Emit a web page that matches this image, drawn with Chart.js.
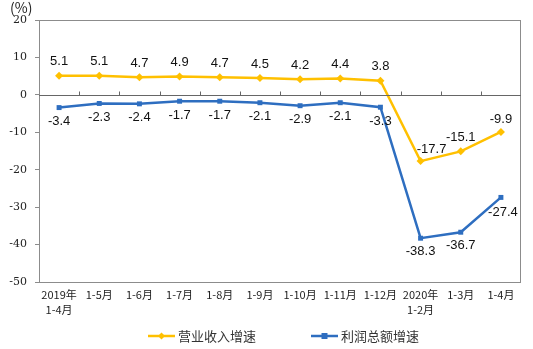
<!DOCTYPE html>
<html>
<head>
<meta charset="utf-8">
<script src="https://cdn.jsdelivr.net/npm/chart.js@4/dist/chart.umd.min.js"></script>
<style>
  html, body { margin: 0; padding: 0; background: #fff; }
  #wrap { width: 533px; height: 349px; }
</style>
</head>
<body>
<div id="wrap"><canvas id="growthChart" width="533" height="349"></canvas></div>
<script>
const periods = [
    ['2019年', '1-4月'], '1-5月', '1-6月', '1-7月', '1-8月', '1-9月',
    '1-10月', '1-11月', '1-12月', ['2020年', '1-2月'], '1-3月', '1-4月'
];
const revenueGrowth = [5.1, 5.1, 4.7, 4.9, 4.7, 4.5, 4.2, 4.4, 3.8, -17.7, -15.1, -9.9];
const profitGrowth = [-3.4, -2.3, -2.4, -1.7, -1.7, -2.1, -2.9, -2.1, -3.3, -38.3, -36.7, -27.4];
const seriesNames = ['营业收入增速', '利润总额增速'];
const yTicks = [20, 10, 0, -10, -20, -30, -40, -50];

const ORANGE = '#FFC000';
const BLUE = '#2E6EC0';
const AXIS_GRAY = '#8c8c8c';
const TEXT = '#222';
const cjkFont = '"Noto Sans CJK SC", "DejaVu Sans", sans-serif';
const numFont = '"Liberation Sans", Arial, sans-serif';

// zero axis line with category ticks, plot frame, value labels, unit and legend
const decorPlugin = {
    id: 'decor',
    afterDatasetsDraw(chart) {
        const ctx = chart.ctx;
        const area = chart.chartArea;
        const y = chart.scales.y;

        ctx.save();
        ctx.strokeStyle = AXIS_GRAY;
        ctx.lineWidth = 1;
        ctx.strokeRect(area.left + 0.5, area.top + 0.5, area.right - area.left - 1, area.bottom - area.top);

        const zeroY = Math.round(y.getPixelForValue(0)) + 0.5;
        ctx.strokeStyle = '#666';
        ctx.beginPath();
        ctx.moveTo(area.left, zeroY);
        ctx.lineTo(area.right, zeroY);
        const step = (area.right - area.left) / periods.length;
        for (let i = 1; i < periods.length; i++) {
            const tx = Math.round(area.left + step * i) + 0.5;
            ctx.moveTo(tx, zeroY);
            ctx.lineTo(tx, zeroY - 4);
        }
        ctx.stroke();

        // value labels: revenue above, profit below
        ctx.font = '13px ' + numFont;
        ctx.fillStyle = '#111';
        ctx.textAlign = 'center';
        ctx.textBaseline = 'middle';
        chart.data.datasets.forEach((ds, di) => {
            const meta = chart.getDatasetMeta(di);
            meta.data.forEach((pt, i) => {
                const v = ds.data[i];
                let dx = 0;
                let dy = di === 0 ? -14 : 14;
                if (di === 0 && i === 9) { dx = 11; dy = -12; }
                if (di === 0 && i === 11) { dy = -12; }
                if (di === 1 && i >= 9) { dy = 13; }
                if (di === 1 && i === 11) { dx = 2; dy = 15; }
                ctx.fillText(v.toFixed(1), pt.x + dx, pt.y + dy);
            });
        });

        // unit label
        ctx.font = '14px ' + cjkFont;
        ctx.fillStyle = TEXT;
        ctx.textAlign = 'left';
        ctx.fillText('(%)', 10, 8);

        // legend
        const items = [
            { x: 148, color: ORANGE, style: 'diamond' },
            { x: 311, color: BLUE, style: 'square' }
        ];
        const ly = 336;
        ctx.font = '13px ' + cjkFont;
        items.forEach((it, i) => {
            ctx.strokeStyle = it.color;
            ctx.fillStyle = it.color;
            ctx.lineWidth = 2.5;
            ctx.beginPath();
            ctx.moveTo(it.x, ly);
            ctx.lineTo(it.x + 27, ly);
            ctx.stroke();
            const cx = it.x + 13.5;
            ctx.beginPath();
            if (it.style === 'diamond') {
                ctx.moveTo(cx, ly - 3.5);
                ctx.lineTo(cx + 3.5, ly);
                ctx.lineTo(cx, ly + 3.5);
                ctx.lineTo(cx - 3.5, ly);
            } else {
                ctx.rect(cx - 3, ly - 3, 6, 6);
            }
            ctx.fill();
            ctx.fillStyle = '#333';
            ctx.textBaseline = 'middle';
            ctx.fillText(seriesNames[i], it.x + 30, ly);
        });
        ctx.restore();
    }
};

new Chart(document.getElementById('growthChart').getContext('2d'), {
    type: 'line',
    data: {
        labels: periods,
        datasets: [
            {
                label: seriesNames[0],
                data: revenueGrowth,
                borderColor: ORANGE,
                backgroundColor: ORANGE,
                borderWidth: 2.5,
                pointStyle: 'rectRot',
                pointRadius: 4,
                pointBorderWidth: 0,
                tension: 0
            },
            {
                label: seriesNames[1],
                data: profitGrowth,
                borderColor: BLUE,
                backgroundColor: BLUE,
                borderWidth: 2.5,
                pointStyle: 'rect',
                pointRadius: 3.5,
                pointBorderWidth: 0,
                tension: 0
            }
        ]
    },
    options: {
        responsive: false,
        animation: false,
        events: [],
        layout: { padding: { left: 0, right: 12, top: 20, bottom: 0 } },
        plugins: {
            legend: { display: false },
            tooltip: { enabled: false }
        },
        scales: {
            x: {
                offset: true,
                grid: { display: false, drawTicks: false, offset: true },
                border: { display: false },
                ticks: {
                    color: TEXT,
                    font: { family: cjkFont, size: 11, lineHeight: 1.3 },
                    padding: 6,
                    maxRotation: 0,
                    autoSkip: false
                },
                afterFit(scale) {
                    scale.height = 67;
                    scale.paddingLeft = 0;
                    scale.paddingRight = 0;
                }
            },
            y: {
                min: -50,
                max: 20,
                afterBuildTicks(scale) { scale.ticks = yTicks.map(v => ({ value: v })); },
                grid: {
                    drawOnChartArea: false,
                    drawTicks: true,
                    tickLength: 4,
                    color: AXIS_GRAY
                },
                border: { display: true, color: AXIS_GRAY },
                ticks: {
                    color: TEXT,
                    font: { family: '"DejaVu Serif", serif', size: 11 },
                    padding: 8
                },
                afterFit(scale) { scale.width = 39; }
            }
        }
    },
    plugins: [decorPlugin]
});
</script>
</body>
</html>
